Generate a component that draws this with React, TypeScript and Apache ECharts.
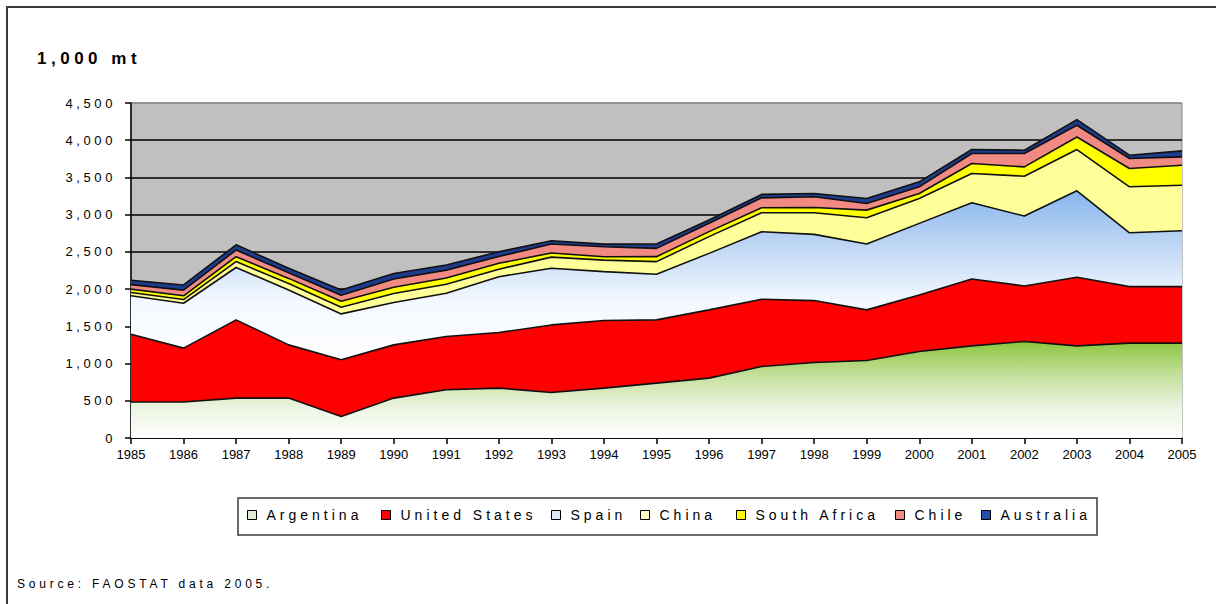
import React, { useEffect, useRef } from "react";
import * as echarts from "echarts";

const years = ["1985","1986","1987","1988","1989","1990","1991","1992","1993","1994","1995","1996","1997","1998","1999","2000","2001","2002","2003","2004","2005"];

const argentina = [483, 483, 536, 536, 290, 536, 648, 670, 612, 670, 737, 804, 961, 1014, 1041, 1162, 1238, 1296, 1238, 1274, 1274];
const unitedStates = [911, 724, 1051, 715, 760, 715, 715, 747, 907, 908, 850, 917, 903, 832, 680, 760, 898, 746, 921, 759, 759];
const spain = [516, 603, 703, 738, 617, 569, 582, 750, 761, 657, 612, 759, 906, 889, 884, 961, 1024, 939, 1161, 724, 751];
const china = [45, 50, 80, 85, 90, 120, 120, 100, 150, 155, 170, 225, 255, 290, 353, 335, 393, 536, 555, 617, 612];
const southAfrica = [45, 50, 65, 70, 80, 85, 85, 80, 55, 45, 67, 67, 67, 72, 103, 67, 134, 125, 169, 246, 268];
const chile = [60, 76, 90, 75, 80, 110, 105, 90, 120, 134, 111, 112, 134, 143, 90, 89, 134, 179, 157, 134, 112];
const australia = [60, 70, 70, 60, 70, 75, 70, 65, 45, 35, 58, 44, 46, 45, 67, 67, 54, 45, 76, 45, 81];

const yTicks = [0, 500, 1000, 1500, 2000, 2500, 3000, 3500, 4000, 4500];
const yTickLabels = ["0", "500", "1,000", "1,500", "2,000", "2,500", "3,000", "3,500", "4,000", "4,500"];

const seriesNames = ["Argentina", "United States", "Spain", "China", "South Africa", "Chile", "Australia"];
const seriesData = [argentina, unitedStates, spain, china, southAfrica, chile, australia];

const grad = (stops: [number, string][]) =>
  new echarts.graphic.LinearGradient(0, 0, 0, 1, stops.map(([offset, color]) => ({ offset, color })));

const areaColors: any[] = [
  grad([[0, "#8CC63F"], [0.35, "#C4E09C"], [0.7, "#EEF5E4"], [1, "#FFFFFF"]]),
  "#FF0000",
  grad([[0, "#88B6EE"], [0.35, "#C3D9F5"], [0.65, "#F3F8FF"], [1, "#FFFFFF"]]),
  "#FFFF99",
  "#FFFF00",
  "#F28A84",
  "#1F3C8C",
];
const legendColors = ["#E2EBD3", "#FF0000", "#DCE6F5", "#FFFFC0", "#FFFF00", "#F28A84", "#2050A8"];
const legendLefts = [247, 381, 551, 640, 736, 895, 981];

const SANS = "'Liberation Sans', Arial, sans-serif";

export default function App() {
  const ref = useRef<HTMLDivElement>(null);
  useEffect(() => {
    if (!ref.current) return;
    const chart = echarts.init(ref.current, undefined, { renderer: "svg" });
    const option: any = {
      animation: false,
      backgroundColor: "#FFFFFF",
      title: [
        {
          text: "1,000 mt",
          left: 37,
          top: 48,
          padding: 0,
          textStyle: { fontSize: 17, fontWeight: "bold", color: "#000", fontFamily: "'Liberation Sans', sp-title", lineHeight: 20 },
        },
        {
          text: "Source: FAOSTAT data 2005.",
          left: 17,
          top: 577,
          padding: 0,
          textStyle: { fontSize: 12, fontWeight: "normal", color: "#000", fontFamily: "'Liberation Sans', sp-src", lineHeight: 14 },
        },
      ],
      legend: seriesNames.map((name, i) => ({
        left: legendLefts[i],
        top: 508,
        padding: 0,
        icon: "rect",
        itemWidth: 9,
        itemHeight: 9,
        selectedMode: false,
        textStyle: { fontSize: 14, color: "#000", fontFamily: "'Liberation Sans', sp-leg", padding: [0, 0, 0, 5] },
        data: [{ name, itemStyle: { color: legendColors[i], borderColor: "#000", borderWidth: 1 } }],
      })),
      graphic: [
        {
          type: "polyline",
          silent: true,
          shape: { points: [[7, 610], [7, 7], [1216, 7]] },
          style: { stroke: "#3a3a3a", lineWidth: 2, fill: null },
        },
        {
          type: "rect",
          silent: true,
          shape: { x: 238, y: 498, width: 859, height: 37 },
          style: { stroke: "#3a3a3a", lineWidth: 1.5, fill: null },
        },
      ],
      grid: {
        left: 131,
        right: 44,
        top: 103,
        bottom: 166,
        show: true,
        backgroundColor: "#C0C0C0",
        borderColor: "#8A8A8A",
        borderWidth: 1,
      },
      xAxis: {
        type: "category",
        data: years,
        boundaryGap: false,
        axisLine: { lineStyle: { color: "#000", width: 1.5 } },
        axisTick: { show: true, length: 6, inside: false, lineStyle: { color: "#000", width: 1.5 } },
        axisLabel: { interval: 0, margin: 10, fontSize: 13, color: "#000", fontFamily: SANS },
        splitLine: { show: false },
      },
      yAxis: {
        type: "value",
        min: yTicks[0],
        max: yTicks[yTicks.length - 1],
        interval: 500,
        axisLine: { show: true, lineStyle: { color: "#000", width: 1.5 } },
        axisTick: { show: true, length: 6, lineStyle: { color: "#000", width: 1.5 } },
        axisLabel: {
          margin: 15,
          fontSize: 13,
          color: "#000",
          fontFamily: "'Liberation Sans', sp-y",
          formatter: (v: number) => yTickLabels[yTicks.indexOf(v)] ?? String(v),
        },
        splitLine: {
          show: true,
          lineStyle: { color: ["#000", "#000", "#000", "#000", "#000", "#000", "#000", "#000", "#000", "#8A8A8A"], width: 1.6 },
        },
      },
      series: seriesNames.map((name, i) => ({
        name,
        type: "line",
        stack: "total",
        data: seriesData[i],
        symbol: "none",
        smooth: false,
        lineStyle: { color: "#111", width: 1.6 },
        itemStyle: { color: legendColors[i] },
        areaStyle: { color: areaColors[i], opacity: 1 },
        emphasis: { disabled: true },
      })),
    };
    chart.setOption(option);
    return () => chart.dispose();
  }, []);
  return (
    <>
      <style>{`
        .cf-chart text[style*="sp-leg"]{letter-spacing:4px}
        .cf-chart text[style*="sp-y"]{letter-spacing:3.6px}
        .cf-chart text[style*="sp-title"]{letter-spacing:4.5px}
        .cf-chart text[style*="sp-src"]{letter-spacing:3.8px}
      `}</style>
      <div
        ref={ref}
        className="cf-chart"
        style={{ position: "fixed", left: 0, top: 0, width: 1226, height: 604 }}
      />
    </>
  );
}
